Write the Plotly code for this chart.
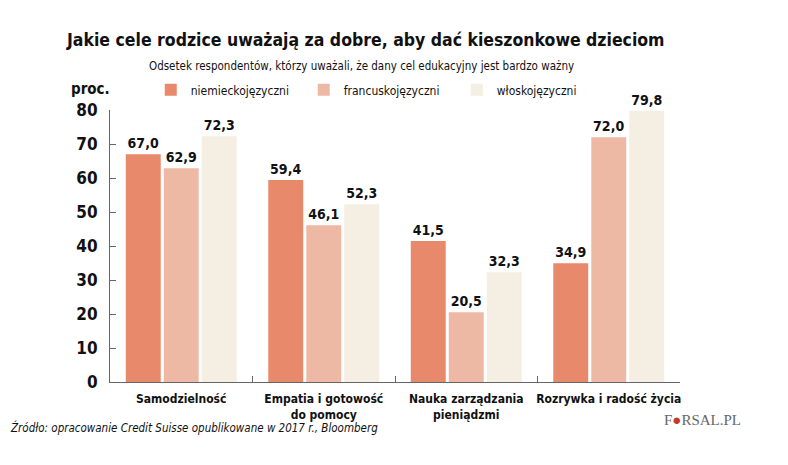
import plotly.graph_objects as go

categories = ["Samodzielność", "Empatia i gotowość<br>do pomocy", "Nauka zarządzania<br>pieniądzmi", "Rozrywka i radość życia"]
series_names = ["niemieckojęzyczni", "francuskojęzyczni", "włoskojęzyczni"]
niemiecko = [67.0, 59.4, 41.5, 34.9]
francusko = [62.9, 46.1, 20.5, 72.0]
wlosko = [72.3, 52.3, 32.3, 79.8]
colors = ["#E8896B", "#EDB9A5", "#F5EEE2"]
y_ticks = [0, 10, 20, 30, 40, 50, 60, 70, 80]

FONT = "DejaVu Sans Condensed, Open Sans, sans-serif"

fig = go.Figure()
for name, vals, col in zip(series_names, [niemiecko, francusko, wlosko], colors):
    fig.add_trace(go.Bar(
        x=categories, y=vals, name=name, marker=dict(color=col, line=dict(width=0)),
        text=[f"{v:.1f}".replace(".", ",") for v in vals], textposition="outside",
        textfont=dict(family=FONT, size=14, color="#111", weight="bold"), cliponaxis=False,
    ))

fig.update_layout(
    width=788, height=465, barmode="group", bargap=0.2, bargroupgap=0.08,
    paper_bgcolor="white", plot_bgcolor="white",
    margin=dict(l=102, r=116, t=102, b=91, autoexpand=False),
    font=dict(family=FONT, color="#111"),
    showlegend=True,
    legend=dict(orientation="h", x=0.0715, y=1.074, xanchor="left", yanchor="middle",
                entrywidth=108, font=dict(size=12, family=FONT), traceorder="normal"),
    uniformtext=dict(mode=False),
)
fig.update_yaxes(range=[0, 80], tickvals=y_ticks, showgrid=False, showline=True, linecolor="#666",
                 linewidth=1, ticks="inside", ticklen=6, tickcolor="#666",
                 tickfont=dict(size=17, family=FONT, color="#111", weight="bold"), zeroline=False,
                 ticklabelstandoff=8)
fig.update_xaxes(showline=True, linecolor="#666", linewidth=1, ticks="inside", tickson="boundaries",
                 ticklen=6, tickcolor="#666", tickangle=0,
                 tickfont=dict(size=12, family=FONT, color="#111", weight="bold"), ticklabelstandoff=6)

fig.add_annotation(text="<b>Jakie cele rodzice uważają za dobre, aby dać kieszonkowe dzieciom</b>",
                   xref="paper", yref="paper", x=-0.080, y=1.0, xanchor="left", yanchor="middle",
                   yshift=70, showarrow=False, font=dict(size=17.5, family=FONT, color="#111"))
fig.add_annotation(text="Odsetek respondentów, którzy uważali, że dany cel edukacyjny jest bardzo ważny",
                   xref="paper", yref="paper", x=0.0645, y=1.0, xanchor="left", yanchor="middle",
                   yshift=44, showarrow=False, font=dict(size=11.5, family=FONT, color="#111"))
fig.add_annotation(text="<b>proc.</b>", xref="paper", yref="paper", x=-0.0715, y=1.0, xanchor="left",
                   yanchor="middle", yshift=21, showarrow=False, font=dict(size=15, family=FONT, color="#111"))
fig.add_annotation(text="<i>Źródło: opracowanie Credit Suisse opublikowane w 2017 r., Bloomberg</i>",
                   xref="paper", yref="paper", x=-0.179, y=0, xanchor="left", yanchor="middle",
                   yshift=-45, showarrow=False, font=dict(size=11.5, family=FONT, color="#111"))
fig.add_annotation(text="F<span style='color:#c0392b'>●</span>RSAL.PL", xref="paper", yref="paper",
                   x=1.0, y=0, xanchor="left", yanchor="middle", xshift=-18, yshift=-38, showarrow=False,
                   font=dict(size=15, family="Liberation Serif, serif", color="#666"))

fig.write_html("out.html")
